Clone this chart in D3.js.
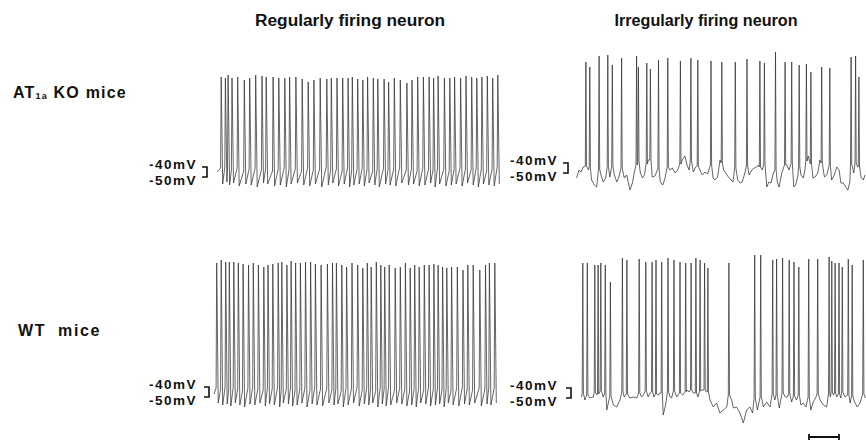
<!DOCTYPE html>
<html>
<head>
<meta charset="utf-8">
<script src="https://cdn.jsdelivr.net/npm/d3@7/dist/d3.min.js"></script>
<style>
    body { margin: 0; background: #fff; }
    text { font-family: "Liberation Sans", Arial, sans-serif; font-weight: bold; fill: #111; }
</style>
</head>
<body>
<svg id="fig" width="866" height="443"></svg>
<script>
// ===== data: spike times (s), spike peaks (mV), take-off level (mV) =====

// AT1a KO, regularly firing
var koRegTimes = [0.14, 0.28, 0.37, 0.50, 0.69, 0.91, 1.09, 1.29, 1.50, 1.64,
    1.87, 2.06, 2.26, 2.42, 2.63, 2.84, 3.04, 3.23, 3.44, 3.66,
    3.81, 4.00, 4.19, 4.37, 4.51, 4.69, 4.86, 5.02, 5.21, 5.36,
    5.57, 5.72, 5.91, 6.11, 6.33, 6.50, 6.69, 6.88, 7.07, 7.22,
    7.37, 7.58, 7.76, 7.92, 8.12, 8.30, 8.49, 8.66, 8.83, 9.01,
    9.19, 9.36];
var koRegPeaks = [50, 49, 52, 49, 50, 47, 49, 52, 51, 50,
    50, 49, 49, 50, 50, 48, 45, 47, 49, 48,
    49, 49, 49, 49, 50, 48, 47, 50, 49, 48,
    48, 45, 49, 47, 44, 47, 50, 50, 50, 49,
    51, 49, 49, 50, 49, 51, 50, 49, 50, 51,
    49, 52];
var koRegBases = [-41, -40, -42, -43, -41, -44, -42, -41, -43, -42,
    -44, -42, -41, -43, -42, -44, -41, -43, -42, -40,
    -43, -42, -44, -41, -43, -42, -41, -43, -44, -42,
    -41, -43, -42, -40, -43, -42, -44, -41, -42, -43,
    -41, -42, -44, -43, -41, -42, -43, -41, -42, -44,
    -42, -40];
var koRegTroughs = [-57, -55, -58, -56, -59, -57, -58, -60, -56, -57,
    -59, -58, -60, -57, -56, -58, -59, -57, -60, -58,
    -56, -59, -57, -60, -58, -57, -59, -56, -58, -60,
    -57, -58, -59, -56, -58, -57, -59, -58, -56, -60,
    -57, -59, -58, -57, -59, -56, -58, -60, -57, -58,
    -59, -57];

// WT, regularly firing
var wtRegTimes = [0.09, 0.24, 0.39, 0.51, 0.66, 0.81, 0.97, 1.15, 1.31, 1.48,
    1.66, 1.80, 1.96, 2.14, 2.26, 2.43, 2.57, 2.72, 2.88, 3.05,
    3.22, 3.38, 3.57, 3.78, 3.95, 4.08, 4.26, 4.42, 4.60, 4.79,
    4.96, 5.11, 5.24, 5.41, 5.56, 5.69, 5.84, 6.04, 6.21, 6.38,
    6.54, 6.69, 6.84, 7.01, 7.17, 7.33, 7.47, 7.62, 7.76, 7.92,
    8.11, 8.30, 8.46, 8.64, 8.86, 9.05, 9.18, 9.36];
var wtRegPeaks = [84, 87, 85, 85, 85, 84, 83, 82, 84, 82,
    80, 82, 83, 84, 85, 82, 86, 84, 84, 85,
    85, 83, 82, 83, 84, 84, 82, 80, 84, 82,
    79, 84, 80, 85, 82, 80, 82, 79, 80, 84,
    79, 82, 80, 82, 82, 83, 82, 80, 79, 80,
    80, 77, 82, 82, 77, 82, 84, 84];
var wtRegBases = [-41, -42, -40, -43, -41, -42, -44, -41, -40, -42,
    -43, -41, -42, -40, -43, -42, -41, -44, -42, -41,
    -43, -40, -42, -41, -43, -42, -44, -41, -42, -40,
    -43, -41, -42, -44, -41, -42, -40, -43, -41, -42,
    -44, -42, -41, -43, -40, -42, -41, -43, -42, -44,
    -41, -40, -42, -43, -41, -42, -40, -41];
var wtRegTroughs = [-56, -58, -57, -59, -56, -58, -60, -57, -58, -56,
    -59, -57, -58, -60, -56, -57, -59, -58, -56, -60,
    -57, -58, -59, -56, -58, -57, -60, -58, -56, -59,
    -57, -58, -56, -60, -57, -59, -58, -56, -57, -59,
    -58, -60, -56, -57, -59, -58, -57, -60, -56, -58,
    -59, -57, -58, -56, -59, -57, -58, -56];

// AT1a KO, irregularly firing
var koIrrTimes = [0.33, 0.46, 0.77, 1.06, 1.21, 1.52, 2.02, 2.08, 2.36, 2.48,
    2.75, 3.06, 3.48, 3.83, 4.06, 4.50, 4.86, 5.31, 5.70, 6.13,
    6.28, 6.65, 6.97, 7.19, 7.44, 7.68, 7.83, 8.19, 8.46, 9.17,
    9.32, 9.43];
var koIrrPeaks = [61, 56, 67, 68, 58, 65, 67, 56, 60, 54,
    63, 65, 62, 65, 63, 62, 61, 61, 64, 62,
    60, 71, 61, 61, 58, 59, 51, 56, 55, 66,
    67, 46];
var koIrrBases = [-43, -45, -46, -44, -43, -45, -42, -38, -41, -37,
    -46, -44, -41, -38, -43, -42, -40, -45, -43, -44,
    -41, -47, -42, -40, -44, -38, -41, -40, -42, -41,
    -40, -43];
// membrane potential between spikes [s, mV]
var koIrrBaseline = [[0.02,-55],[0.10,-47],[0.17,-49],[0.24,-44],[0.41,-47],[0.52,-57],[0.61,-62],[0.69,-64],
    [0.83,-52],[0.91,-59],[0.99,-55],[1.13,-54],[1.28,-52],[1.36,-59],[1.43,-54],[1.61,-55],[1.69,-52],
    [1.74,-59],[1.80,-67],[1.88,-60],[1.94,-50],[2.14,-49],[2.21,-55],[2.28,-52],[2.41,-37],[2.54,-54],
    [2.63,-53],[2.81,-59],[2.89,-62],[2.97,-55],[3.13,-47],[3.21,-45],[3.30,-50],[3.39,-47],[3.54,-37],
    [3.63,-33],[3.70,-42],[3.77,-47],[3.91,-49],[3.99,-44],[4.13,-47],[4.21,-52],[4.30,-49],[4.39,-51],
    [4.57,-55],[4.63,-57],[4.72,-54],[4.80,-37],[4.92,-47],[4.99,-50],[5.08,-54],[5.17,-57],[5.23,-59],
    [5.39,-57],[5.47,-60],[5.54,-59],[5.63,-50],[5.77,-52],[5.86,-47],[5.94,-45],[6.02,-44],[6.08,-42],
    [6.21,-47],[6.36,-64],[6.43,-59],[6.50,-60],[6.58,-50],[6.71,-59],[6.77,-64],[6.86,-50],[7.03,-42],
    [7.10,-47],[7.26,-64],[7.32,-62],[7.39,-54],[7.50,-52],[7.58,-55],[7.63,-47],[7.74,-33],[7.90,-55],
    [7.97,-54],[8.06,-50],[8.13,-37],[8.28,-54],[8.36,-52],[8.52,-57],[8.61,-52],[8.69,-44],[8.77,-47],
    [8.83,-60],[8.91,-60],[8.99,-64],[9.06,-67],[9.13,-59],[9.26,-50],[9.39,-44],[9.50,-54],[9.58,-57],
    [9.63,-52]];

// WT, irregularly firing
var wtIrrTimes = [0.06, 0.21, 0.46, 0.57, 0.66, 0.81, 0.98, 1.38, 1.53, 1.94,
    2.16, 2.37, 2.50, 2.69, 2.90, 3.10, 3.30, 3.49, 3.67, 3.83,
    3.97, 4.12, 4.23, 4.93, 5.79, 5.99, 6.39, 6.52, 6.72, 6.94,
    7.10, 7.26, 7.59, 7.89, 8.27, 8.36, 8.47, 8.60, 8.71, 8.91,
    9.04, 9.41];
var wtIrrPeaks = [85, 85, 83, 83, 85, 83, 66, 90, 88, 89,
    86, 86, 88, 86, 90, 88, 86, 85, 85, 90,
    88, 85, 80, 85, 93, 93, 88, 89, 90, 88,
    86, 81, 89, 89, 91, 87, 85, 85, 81, 89,
    83, 88];
var wtIrrBases = [-45, -47, -44, -46, -43, -45, -48, -44, -46, -45,
    -43, -44, -46, -45, -44, -43, -45, -44, -42, -45,
    -43, -42, -44, -47, -50, -49, -46, -47, -45, -46,
    -48, -47, -49, -46, -45, -44, -45, -46, -44, -47,
    -48, -46];
var wtIrrBaseline = [[0.02,-49],[0.13,-52],[0.30,-50],[0.41,-49],[0.52,-47],[0.74,-49],[0.86,-62],[1.08,-57],
    [1.19,-59],[1.30,-52],[1.44,-49],[1.63,-50],[1.74,-49],[1.86,-50],[2.02,-49],[2.08,-47],[2.24,-49],
    [2.30,-45],[2.43,-49],[2.58,-47],[2.63,-45],[2.74,-67],[2.82,-57],[2.97,-49],[3.02,-50],[3.19,-49],
    [3.39,-47],[3.54,-42],[3.60,-44],[3.74,-45],[3.90,-49],[4.04,-42],[4.18,-44],[4.30,-52],[4.41,-59],
    [4.52,-55],[4.63,-65],[4.74,-62],[4.86,-59],[5.02,-52],[5.08,-60],[5.19,-59],[5.30,-65],[5.41,-75],
    [5.52,-62],[5.63,-59],[5.72,-65],[5.88,-62],[6.08,-59],[6.19,-54],[6.30,-59],[6.46,-52],[6.61,-60],
    [6.81,-49],[6.88,-49],[7.02,-54],[7.18,-52],[7.33,-57],[7.41,-55],[7.50,-59],[7.66,-62],[7.74,-54],
    [7.82,-50],[7.97,-52],[8.08,-57],[8.19,-59],[8.31,-49],[8.41,-47],[8.52,-49],[8.66,-50],[8.80,-49],
    [8.97,-55],[9.12,-54],[9.21,-59],[9.30,-55],[9.48,-50]];

var colTitles = ["Regularly firing neuron", "Irregularly firing neuron"];
var calib = [-40, -50];       // mV, calibration bracket
var timeBar = [7.6, 8.6];     // s, time scale bar

// ===== layout =====
var svg = d3.select("#fig");

var panels = [
    { times: koRegTimes, peaks: koRegPeaks, bases: koRegBases, troughs: koRegTroughs, start: -45,
      x0: 217, y40: 167, brX: 207, labX: 197 },
    { times: koIrrTimes, peaks: koIrrPeaks, bases: koIrrBases, baseline: koIrrBaseline,
      x0: 576, y40: 163, brX: 568, labX: 558 },
    { times: wtRegTimes, peaks: wtRegPeaks, bases: wtRegBases, troughs: wtRegTroughs, start: -47,
      x0: 214, y40: 387, brX: 209, labX: 197 },
    { times: wtIrrTimes, peaks: wtIrrPeaks, bases: wtIrrBases, baseline: wtIrrBaseline,
      x0: 581, y40: 388, brX: 571, labX: 558 }
];

panels.forEach(function(p) {
    // 30 px per second, 1 px per mV
    p.x = d3.scaleLinear().domain([0, 10]).range([p.x0, p.x0 + 300]);
    p.y = d3.scaleLinear().domain([-40, -50]).range([p.y40, p.y40 + 10]);

    var pts = [];
    if (p.start != null) pts.push([0, p.start]);
    if (p.baseline) {
        p.baseline.forEach(function(b) {
            var near = p.times.some(function(t) { return Math.abs(t - b[0]) < 0.035; });
            if (!near) pts.push([b[0], b[1]]);
        });
    }
    p.times.forEach(function(t, i) {
        pts.push([t - 0.02, p.bases[i]]);
        pts.push([t, p.peaks[i]]);
        if (p.troughs) {
            pts.push([t + 0.05, p.troughs[i]]);
        } else {
            pts.push([t + 0.02, p.bases[i]]);
        }
    });
    pts.sort(function(a, b) { return a[0] - b[0]; });

    var lineP = d3.line()
        .x(function(d) { return p.x(d[0]); })
        .y(function(d) { return p.y(d[1]); });

    svg.append("path")
        .attr("d", lineP(pts))
        .attr("fill", "none")
        .attr("stroke", "#333")
        .attr("stroke-width", 0.75)
        .attr("stroke-linejoin", "round");

    // calibration bracket  ]
    var yA = p.y(calib[0]), yB = p.y(calib[1]);
    svg.append("path")
        .attr("d", "M" + (p.brX - 5) + "," + yA + "H" + p.brX + "V" + yB + "H" + (p.brX - 5))
        .attr("fill", "none")
        .attr("stroke", "#111")
        .attr("stroke-width", 1.6);

    svg.append("text")
        .attr("x", p.labX).attr("y", yA + 2)
        .attr("text-anchor", "end")
        .attr("font-size", 13.5)
        .attr("letter-spacing", 1.5)
        .text(calib[0] + "mV");
    svg.append("text")
        .attr("x", p.labX).attr("y", yB + 8)
        .attr("text-anchor", "end")
        .attr("font-size", 13.5)
        .attr("letter-spacing", 1.5)
        .text(calib[1] + "mV");
});

// column titles
svg.append("text")
    .attr("x", 350).attr("y", 26)
    .attr("text-anchor", "middle")
    .attr("font-size", 16)
    .attr("textLength", 190).attr("lengthAdjust", "spacingAndGlyphs")
    .text(colTitles[0]);
svg.append("text")
    .attr("x", 706).attr("y", 26)
    .attr("text-anchor", "middle")
    .attr("font-size", 16)
    .attr("textLength", 183).attr("lengthAdjust", "spacingAndGlyphs")
    .text(colTitles[1]);

// row labels
var ko = svg.append("text")
    .attr("x", 13).attr("y", 98)
    .attr("font-size", 16)
    .attr("letter-spacing", 1.2);
ko.append("tspan").text("AT");
ko.append("tspan").attr("font-size", 9).attr("dy", 1).text("1a");
ko.append("tspan").attr("dy", -1).text(" KO mice");

svg.append("text")
    .attr("x", 18).attr("y", 336)
    .attr("font-size", 16)
    .attr("letter-spacing", 1.6)
    .attr("word-spacing", 6)
    .text("WT mice");

// time scale bar (bottom right)
var pb = panels[3];
var bx0 = pb.x(timeBar[0]), bx1 = pb.x(timeBar[1]);
svg.append("path")
    .attr("d", "M" + bx0 + ",434V440M" + bx0 + ",437H" + bx1 + "M" + bx1 + ",434V440")
    .attr("fill", "none")
    .attr("stroke", "#111")
    .attr("stroke-width", 1.8);
</script>
</body>
</html>
